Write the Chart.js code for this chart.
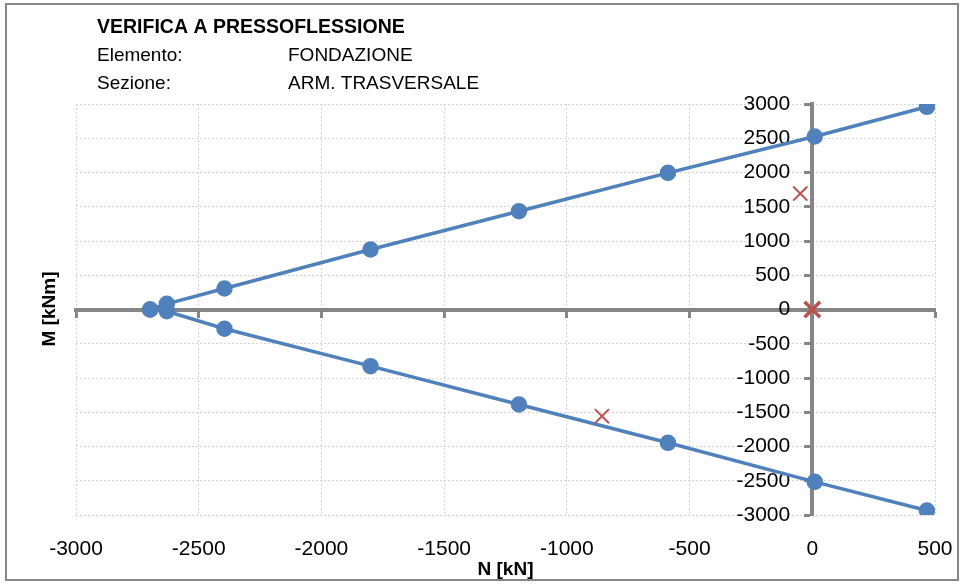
<!DOCTYPE html>
<html>
<head>
<meta charset="utf-8">
<script src="https://cdn.jsdelivr.net/npm/chart.js@4.4.1/dist/chart.umd.min.js"></script>
<style>
  html, body { margin: 0; padding: 0; background: #fff; }
  #wrap { width: 965px; height: 584px; }
</style>
</head>
<body>
<div id="wrap"><canvas id="pfChart" width="965" height="584"></canvas></div>
<script>
// dominio di resistenza (N [kN], M [kNm])
const domainN = [-2698, -2630, -2395, -1800, -1195, -588, 10, 467];
const domainTop = [0, 83, 306, 876, 1435, 1995, 2525, 2959];
const domainBottom = [0, -25, -281, -827, -1387, -1946, -2516, -2934];

// sollecitazioni di verifica
const loadN = [-49, -857, 0];
const loadM = [1693, -1557, 0];

const headerLines = [
    ['VERIFICA A PRESSOFLESSIONE', ''],
    ['Elemento:', 'FONDAZIONE'],
    ['Sezione:', 'ARM. TRASVERSALE']
];

const FONT = "'Liberation Sans', Arial, sans-serif";
const BLUE = '#4F81BD';
const RED = '#C0504D';
const AXIS = '#868686';
const GRID = '#D4D4D4';

const toPoints = (xs, ys) => xs.map((x, i) => ({ x: x, y: ys[i] }));
const plain = (v) => String(v); // niente separatore migliaia

const frame = {
    id: 'frame',
    beforeDraw(chart) {
        const c = chart.ctx;
        c.save();
        c.fillStyle = '#fff';
        c.fillRect(0, 0, chart.width, chart.height);
        c.strokeStyle = AXIS;
        c.lineWidth = 2;
        c.strokeRect(6, 4, 952, 576);
        c.restore();
    },
    afterDraw(chart) {
        const c = chart.ctx;
        c.save();
        c.fillStyle = '#000';
        c.textBaseline = 'middle';
        headerLines.forEach((row, i) => {
            c.font = (i === 0 ? 'bold 19.5px ' : '19px ') + FONT;
            c.fillText(row[0], 97, 28 + i * 28);
            if (row[1]) c.fillText(row[1], 288, 28 + i * 28);
        });
        // titolo asse M
        c.translate(50, 309);
        c.rotate(-Math.PI / 2);
        c.textAlign = 'center';
        c.font = 'bold 19px ' + FONT;
        c.fillText('M [kNm]', 0, 0);
        c.restore();
    }
};

const ctx = document.getElementById('pfChart');

new Chart(ctx, {
    type: 'scatter',
    data: {
        datasets: [{
            label: 'dominio +',
            data: toPoints(domainN, domainTop),
            showLine: true,
            borderColor: BLUE,
            backgroundColor: BLUE,
            borderWidth: 3.5,
            pointRadius: 6.5,
            pointHoverRadius: 6.5,
            order: 2
        },
        {
            label: 'dominio -',
            data: toPoints(domainN, domainBottom),
            showLine: true,
            borderColor: BLUE,
            backgroundColor: BLUE,
            borderWidth: 3.5,
            pointRadius: 6.5,
            pointHoverRadius: 6.5,
            order: 2
        },
        {
            label: 'sollecitazioni',
            data: toPoints(loadN, loadM),
            showLine: false,
            pointStyle: 'crossRot',
            pointRadius: [10, 10, 11],
            pointBorderWidth: [2, 2, 3.5],
            borderColor: RED,
            backgroundColor: RED,
            order: 1
        }]
    },
    options: {
        responsive: false,
        animation: false,
        events: [],
        layout: {
            padding: { top: 104, left: 76, right: 30, bottom: 0 }
        },
        plugins: {
            legend: { display: false },
            tooltip: { enabled: false }
        },
        scales: {
            x: {
                type: 'linear',
                position: 'bottom',
                min: -3000,
                max: 500,
                afterFit: (s) => {
                    s.height = 69;
                    s.paddingLeft = 0;
                    s.paddingRight = 0;
                },
                ticks: {
                    stepSize: 500,
                    padding: 22,
                    color: '#000',
                    font: { family: FONT, size: 21 },
                    callback: plain
                },
                grid: {
                    color: GRID,
                    drawTicks: false
                },
                border: { display: false, dash: [2, 2] },
                title: {
                    display: true,
                    text: 'N [kN]',
                    color: '#000',
                    font: { family: FONT, size: 19, weight: 'bold' },
                    padding: { top: 0, bottom: 3 }
                }
            },
            xZero: {
                type: 'linear',
                axis: 'x',
                position: { y: 0 },
                min: -3000,
                max: 500,
                afterFit: (s) => { s.height = 0; },
                ticks: { display: false, stepSize: 500 },
                grid: {
                    drawOnChartArea: false,
                    tickLength: 6,
                    tickColor: AXIS,
                    tickWidth: 3
                },
                border: { color: AXIS, width: 4 }
            },
            y: {
                type: 'linear',
                position: { x: 0 },
                min: -3000,
                max: 3000,
                afterFit: (s) => { s.width = 0; },
                ticks: { display: false, stepSize: 500 },
                grid: {
                    color: GRID,
                    tickLength: 6,
                    tickColor: AXIS,
                    tickWidth: 3
                },
                border: { color: AXIS, width: 4, dash: [2, 2] }
            },
            // etichette M, allineate a destra poco prima dell'asse N = 0
            yLabels: {
                type: 'linear',
                axis: 'y',
                position: { x: -90 },
                min: -3000,
                max: 3000,
                afterFit: (s) => { s.width = 0; },
                ticks: {
                    stepSize: 500,
                    color: '#000',
                    font: { family: FONT, size: 21 },
                    callback: plain
                },
                grid: { display: false },
                border: { display: false }
            }
        }
    },
    plugins: [frame]
});
</script>
</body>
</html>
